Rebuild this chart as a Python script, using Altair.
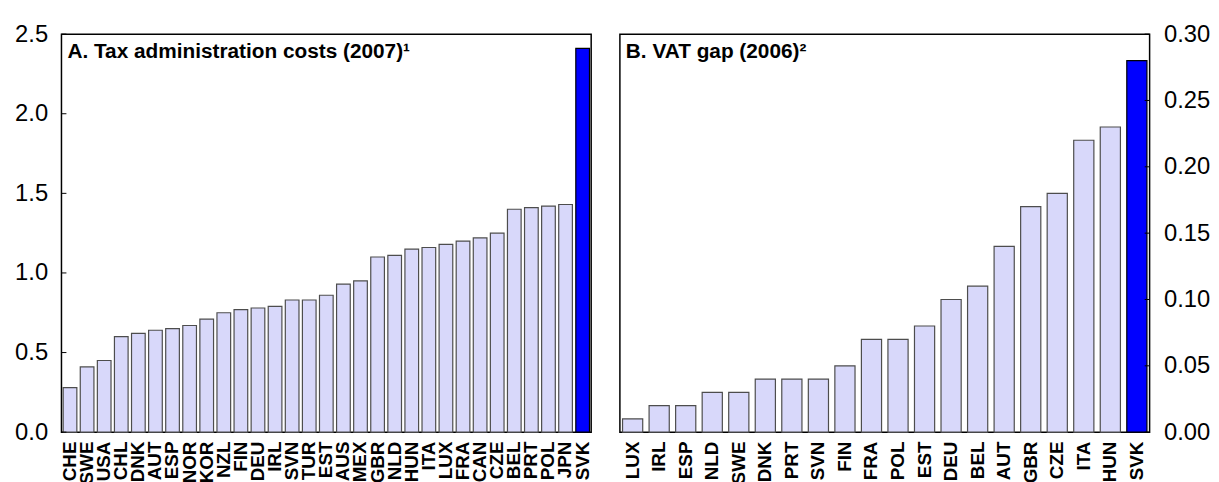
import altair as alt
import pandas as pd

# Panel A: Tax administration costs (2007)
a_countries = ["CHE", "SWE", "USA", "CHL", "DNK", "AUT", "ESP", "NOR", "KOR", "NZL", "FIN",
               "DEU", "IRL", "SVN", "TUR", "EST", "AUS", "MEX", "GBR", "NLD", "HUN", "ITA",
               "LUX", "FRA", "CAN", "CZE", "BEL", "PRT", "POL", "JPN", "SVK"]
a_values = [0.28, 0.41, 0.45, 0.60, 0.62, 0.64, 0.65, 0.67, 0.71, 0.75, 0.77,
            0.78, 0.79, 0.83, 0.83, 0.86, 0.93, 0.95, 1.10, 1.11, 1.15, 1.16,
            1.18, 1.20, 1.22, 1.25, 1.40, 1.41, 1.42, 1.43, 2.41]
a_ticks = [0.0, 0.5, 1.0, 1.5, 2.0, 2.5]

# Panel B: VAT gap (2006)
b_countries = ["LUX", "IRL", "ESP", "NLD", "SWE", "DNK", "PRT", "SVN", "FIN", "FRA",
               "POL", "EST", "DEU", "BEL", "AUT", "GBR", "CZE", "ITA", "HUN", "SVK"]
b_values = [0.01, 0.02, 0.02, 0.03, 0.03, 0.04, 0.04, 0.04, 0.05, 0.07,
            0.07, 0.08, 0.10, 0.11, 0.14, 0.17, 0.18, 0.22, 0.23, 0.28]
b_ticks = [0.0, 0.05, 0.10, 0.15, 0.20, 0.25, 0.30]

highlight = "SVK"
FONT = "Liberation Sans"
W, H = 535, 402
LIGHT = "#d8d8fa"
BLUE = "#0000ff"


def panel(countries, values, ticks, title, fmt, orient, pad_inner):
    df = pd.DataFrame({"country": countries, "value": values})
    df["hl"] = df["country"].eq(highlight)
    tdf = pd.DataFrame({"value": ticks})
    y_scale = alt.Scale(domain=[ticks[0], ticks[-1]], nice=False, zero=True)
    bars = alt.Chart(df).mark_bar(strokeWidth=1.2).encode(
        x=alt.X("country:N", sort=None, title=None,
                scale=alt.Scale(paddingInner=pad_inner, paddingOuter=0.1),
                axis=alt.Axis(labelAngle=-90, labelFont=FONT, labelFontSize=19,
                              labelFontWeight="bold", labelColor="black",
                              labelPadding=9, ticks=False, domain=False,
                              labelAlign="right", labelBaseline="middle")),
        y=alt.Y("value:Q", scale=y_scale, title=None,
                axis=alt.Axis(values=ticks, format=fmt, orient=orient, grid=False,
                              ticks=False, domain=False, labelFont=FONT,
                              labelFontSize=24, labelColor="black", labelPadding=14,
                              labelFlush=False)),
        fill=alt.condition("datum.hl", alt.value(BLUE), alt.value(LIGHT)),
        stroke=alt.condition("datum.hl", alt.value("#000000"), alt.value("#4d4d4d")),
    )
    if orient == "left":
        tx, tx2 = alt.value(0), alt.value(5)
    else:
        tx, tx2 = alt.value(W - 5), alt.value(W)
    tick_rules = alt.Chart(tdf).mark_rule(color="black", strokeWidth=1).encode(
        y=alt.Y("value:Q", scale=y_scale), x=tx, x2=tx2)
    ttl = alt.Chart(pd.DataFrame({"t": [title]})).mark_text(
        align="left", baseline="alphabetic", font=FONT, fontSize=21,
        fontWeight="bold", color="black").encode(
        text="t:N", x=alt.value(6), y=alt.value(24))
    return alt.layer(bars, tick_rules, ttl).properties(width=W, height=H)


left = panel(a_countries, a_values, a_ticks, "A. Tax administration costs (2007)¹",
             ".1f", "left", 0.2)
right = panel(b_countries, b_values, b_ticks, "B. VAT gap (2006)²",
              ".2f", "right", 0.24)

chart = alt.hconcat(left, right, spacing=26).properties(
    padding={"left": 5, "top": 11, "right": 0, "bottom": 0}
).configure(background="white").configure_view(stroke="black", strokeWidth=1.5)

chart.save("out.html", embed_options={"renderer": "svg", "actions": False})
